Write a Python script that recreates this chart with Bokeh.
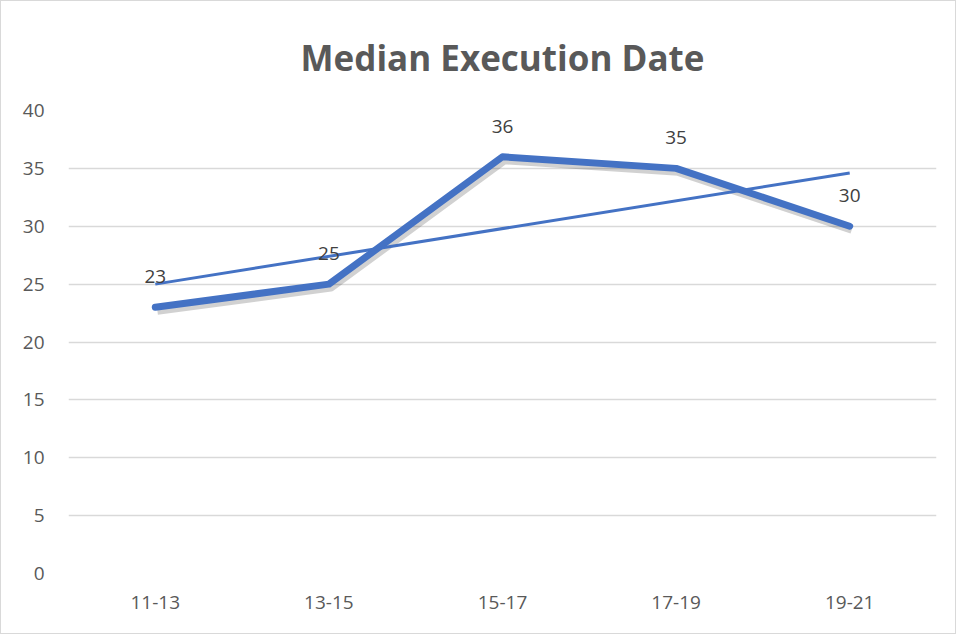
import numpy as np
from bokeh.plotting import figure
from bokeh.models import ColumnDataSource, LabelSet, Range1d, FactorRange
from bokeh.core.properties import value
from bokeh.transform import dodge
from bokeh.embed import file_html
from bokeh.resources import INLINE

# ---- data ----
categories = ["11-13", "13-15", "15-17", "17-19", "19-21"]
median_values = [23, 25, 36, 35, 30]
y_ticks = [0, 5, 10, 15, 20, 25, 30, 35, 40]

# linear trendline (least squares fit of the series, as the spreadsheet computes it)
xi = np.arange(len(median_values))
slope, intercept = np.polyfit(xi, median_values, 1)
trend_values = [intercept + slope * xi[0], intercept + slope * xi[-1]]
trend_cats = [categories[0], categories[-1]]

BLUE = "#4472C4"
FONT = "Open Sans"

src = ColumnDataSource(dict(x=categories, y=median_values, lbl=[str(v) for v in median_values]))
trend_src = ColumnDataSource(dict(x=trend_cats, y=trend_values))

p = figure(
    width=956, height=634,
    x_range=FactorRange(*categories, range_padding=0),
    y_range=Range1d(0, 40),
    output_backend="svg", toolbar_location=None,
    min_border_left=67, min_border_right=21, min_border_top=109, min_border_bottom=62,
    title="Median Execution Date",
)

p.title.text_font = FONT
p.title.text_font_size = "35px"
p.title.text_font_style = "bold"
p.title.text_color = "#595959"
p.title.align = "center"
p.title.vertical_align = "top"
p.title.standoff = 55

p.outline_line_color = None
p.border_fill_color = "white"
p.background_fill_color = "white"

# grid
p.xgrid.grid_line_color = None
p.ygrid.grid_line_color = "#D9D9D9"
p.ygrid.grid_line_width = 1.5
p.yaxis.ticker = y_ticks

# axes
for ax in (p.xaxis, p.yaxis):
    ax.axis_line_color = None
    ax.major_tick_line_color = None
    ax.minor_tick_line_color = None
    ax.major_tick_out = 0
    ax.major_tick_in = 0
    ax.major_label_text_font = FONT
    ax.major_label_text_font_size = "19px"
    ax.major_label_text_color = "#595959"
p.yaxis.major_label_standoff = 24
p.xaxis.major_label_standoff = 22

# shadow for main line
p.line(x=dodge("x", 0.012, range=p.x_range), y=dodge("y", -0.3), source=src,
       line_width=8, line_color="#000000", line_alpha=0.18, line_join="round")
# main line
p.line(x="x", y="y", source=src, line_width=7, line_color=BLUE, line_join="round", line_cap="round")
# trendline
p.line(x="x", y="y", source=trend_src, line_width=3, line_color=BLUE)

labels = LabelSet(x="x", y="y", text="lbl", source=src, y_offset=24,
                  text_align="center", text_baseline="bottom",
                  text_font=value(FONT), text_font_size=value("19px"), text_color=value("#404040"))
p.add_layout(labels)

# chart border
p.styles = {"border": "1.5px solid #D9D9D9"}

open("out.html", "w").write(file_html(p, INLINE))
